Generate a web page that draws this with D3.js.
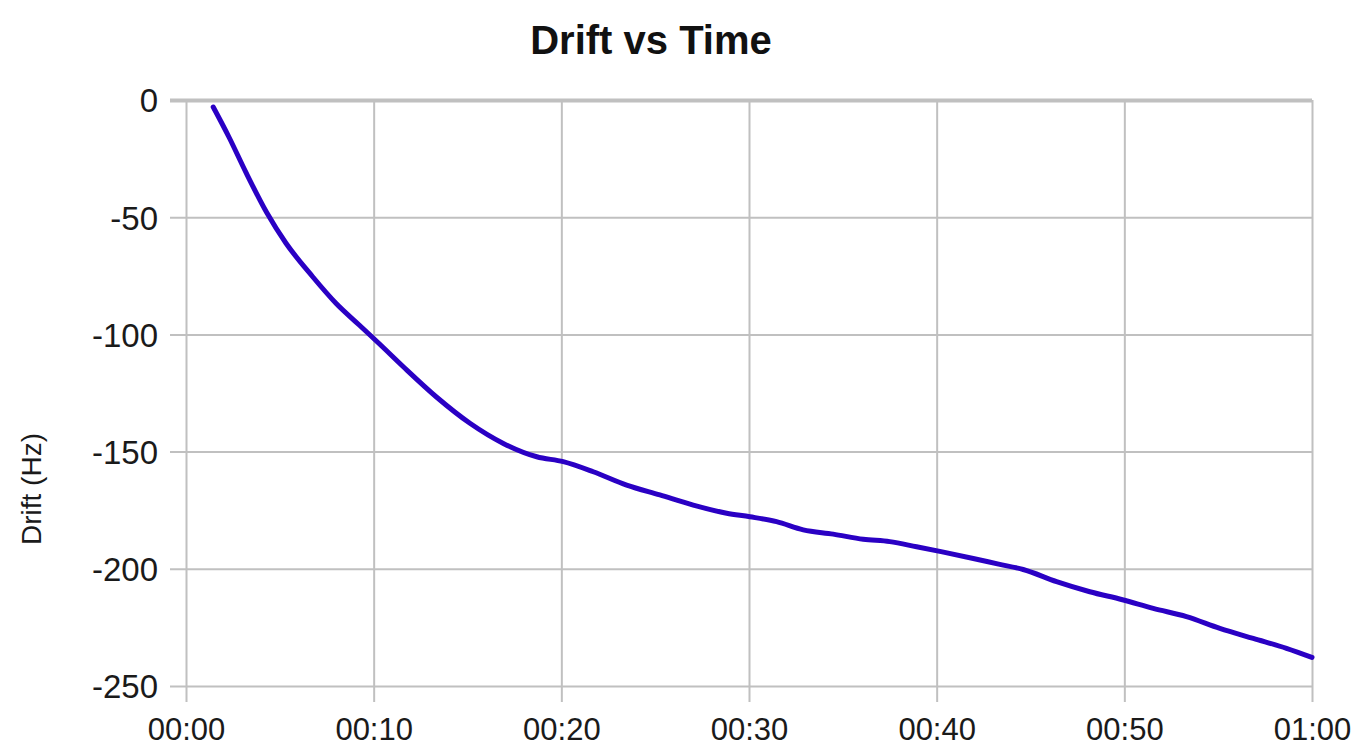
<!DOCTYPE html>
<html>
<head>
<meta charset="utf-8">
<script src="https://cdn.jsdelivr.net/npm/d3@7"></script>
<style>
  html, body { margin: 0; padding: 0; background: #ffffff; }
  svg { display: block; font-family: "Liberation Sans", Arial, sans-serif; }
</style>
</head>
<body>
<svg id="chart" width="1368" height="749"></svg>
<script>
// ---- data (time in minutes, drift in Hz) ----
const timeMinutes = [1.45, 2.30, 3.20, 4.30, 5.33, 6.75, 7.99, 9.23, 10.30, 11.58, 13.36, 15.13, 16.91, 18.69, 20.10, 21.70, 23.48, 25.25, 27.03, 28.81, 30.05, 31.47, 32.89, 34.49, 36.09, 37.50, 38.93, 40.30, 41.95, 43.30, 44.61, 46.39, 48.16, 49.90, 51.54, 53.31, 55.09, 56.87, 58.64, 60.00];
const driftHz     = [-3.0, -16.0, -31.0, -48.0, -61.1, -75.4, -86.7, -96.0, -104.0, -113.8, -126.8, -137.9, -146.5, -152.2, -154.3, -158.6, -164.3, -168.5, -172.8, -176.3, -177.8, -179.9, -183.4, -185.2, -187.4, -188.4, -190.6, -192.8, -195.6, -198.0, -200.3, -205.5, -209.8, -213.2, -216.9, -220.4, -225.4, -229.7, -233.9, -237.8];
const xTickValues = [0, 10, 20, 30, 40, 50, 60];
const xTickLabels = ["00:00", "00:10", "00:20", "00:30", "00:40", "00:50", "01:00"];
const yTickValues = [0, -50, -100, -150, -200, -250];
const titleText = "Drift vs Time";
const yAxisTitle = "Drift (Hz)";

// ---- layout ----
const svg = d3.select("#chart");
const plot = { left: 186, right: 1312, top: 100, bottom: 686 };
const gridColor = "#c0c0c0";
const textColor = "#1a1a1a";

const x = d3.scaleLinear().domain([0, 60]).range([plot.left, plot.right]);
const y = d3.scaleLinear().domain([-250, 0]).range([plot.bottom, plot.top]);

// vertical gridlines (extend below plot as tick marks)
const xAxis = d3.axisBottom(x)
  .tickValues(xTickValues)
  .tickSize(-(plot.bottom - plot.top) - 16)
  .tickFormat((d, i) => xTickLabels[i]);
const gx = svg.append("g")
  .attr("transform", `translate(0,${plot.bottom + 16})`)
  .call(xAxis);
gx.select(".domain").remove();
gx.selectAll(".tick line").attr("stroke", gridColor).attr("stroke-width", 2);
gx.selectAll(".tick text")
  .attr("y", 38)
  .attr("dy", 0)
  .attr("fill", textColor)
  .style("font-size", "31px")
  .style("font-family", "'Liberation Sans', Arial, sans-serif");

// horizontal gridlines (extend left as tick marks)
const yAxis = d3.axisLeft(y)
  .tickValues(yTickValues)
  .tickSize(-(plot.right - plot.left) - 16)
  .tickFormat(d3.format("d"));
const gy = svg.append("g")
  .attr("transform", `translate(${plot.left - 16},0)`)
  .call(yAxis);
gy.select(".domain").remove();
gy.selectAll(".tick line")
  .attr("stroke", gridColor)
  .attr("stroke-width", d => d === 0 ? 4 : 2);
gy.selectAll(".tick text")
  .attr("x", -12)
  .attr("dy", "0.36em")
  .attr("fill", textColor)
  .style("font-size", "33px")
  .style("font-family", "'Liberation Sans', Arial, sans-serif")
  .text(d => d === 0 ? "0" : d3.format("d")(d).replace("−", "-"));

// data line
const line = d3.line()
  .x((d, i) => x(timeMinutes[i]))
  .y(d => y(d))
  .curve(d3.curveMonotoneX);
svg.append("path")
  .datum(driftHz)
  .attr("d", line)
  .attr("fill", "none")
  .attr("stroke", "#2a00c4")
  .attr("stroke-width", 5)
  .attr("stroke-linejoin", "round")
  .attr("stroke-linecap", "round");

// title
svg.append("text")
  .attr("x", 651)
  .attr("y", 54)
  .attr("text-anchor", "middle")
  .attr("fill", "#111")
  .style("font-size", "40px")
  .style("font-weight", "bold")
  .text(titleText);

// y axis title
svg.append("text")
  .attr("transform", "translate(41,489) rotate(-90)")
  .attr("text-anchor", "middle")
  .attr("fill", textColor)
  .style("font-size", "28px")
  .text(yAxisTitle);
</script>
</body>
</html>
